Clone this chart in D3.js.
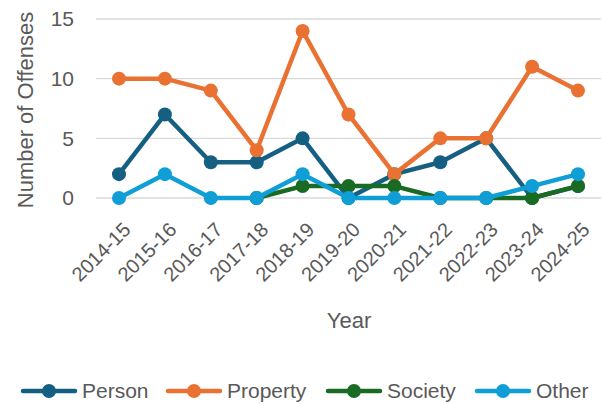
<!DOCTYPE html>
<html>
<head>
<meta charset="utf-8">
<script src="https://cdn.jsdelivr.net/npm/d3@7"></script>
<style>
  body { margin: 0; background: #fff; }
  text { font-family: "Liberation Sans", Arial, sans-serif; fill: #595959; }
</style>
</head>
<body>
<div id="chart"></div>
<script>
const years = ["2014-15", "2015-16", "2016-17", "2017-18", "2018-19", "2019-20",
  "2020-21", "2021-22", "2022-23", "2023-24", "2024-25"];
const person = [2, 7, 3, 3, 5, 0, 2, 3, 5, 0, 1];
const property = [10, 10, 9, 4, 14, 7, 2, 5, 5, 11, 9];
// no Society entries for the first three years
const society = [null, null, null, 0, 1, 1, 1, 0, 0, 0, 1];
const other = [0, 2, 0, 0, 2, 0, 0, 0, 0, 1, 2];
const yTicks = [0, 5, 10, 15];

const series = [
  { name: "Person", values: person, color: "#156082" },
  { name: "Property", values: property, color: "#E97132" },
  { name: "Society", values: society, color: "#196B24" },
  { name: "Other", values: other, color: "#0F9ED5" }
];

var width = 603, height = 404;

var svg = d3.select("#chart").append("svg")
  .attr("width", width)
  .attr("height", height);

var x = d3.scalePoint().domain(years).range([119, 578]);
var y = d3.scaleLinear().domain([0, 15]).range([198, 19]);

// gridlines
svg.append("g")
  .selectAll("line")
  .data(yTicks)
  .enter()
  .append("line")
  .attr("x1", 96)
  .attr("x2", 601)
  .attr("y1", d => y(d))
  .attr("y2", d => y(d))
  .attr("stroke", "#d9d9d9")
  .attr("stroke-width", 1.3);

// y axis labels
var yAxis = svg.append("g")
  .attr("transform", "translate(74,0)")
  .call(d3.axisLeft(y).tickValues(yTicks).tickSize(0).tickPadding(0));
yAxis.select(".domain").remove();
yAxis.selectAll("text")
  .attr("font-size", 21)
  .attr("fill", "#595959")
  .style("font-family", "Liberation Sans, Arial, sans-serif");

// x axis labels, rotated
svg.append("g")
  .selectAll("text")
  .data(years)
  .enter()
  .append("text")
  .attr("transform", d => "translate(" + (x(d) + 8) + ",226) rotate(-45)")
  .attr("text-anchor", "end")
  .attr("dy", "0.35em")
  .attr("font-size", 20)
  .text(d => d);

// axis titles
svg.append("text")
  .attr("transform", "translate(33,110) rotate(-90)")
  .attr("text-anchor", "middle")
  .attr("font-size", 22)
  .text("Number of Offenses");

svg.append("text")
  .attr("x", 349)
  .attr("y", 328)
  .attr("text-anchor", "middle")
  .attr("font-size", 22)
  .text("Year");

var line = d3.line()
  .defined(d => d !== null)
  .x((d, i) => x(years[i]))
  .y(d => y(d));

series.forEach(function(s) {
  var g = svg.append("g").attr("id", s.name + "Series");
  g.append("path")
    .datum(s.values)
    .attr("d", line)
    .attr("fill", "none")
    .attr("stroke", s.color)
    .attr("stroke-width", 4.5)
    .attr("stroke-linejoin", "round");
  g.selectAll("circle")
    .data(s.values.map((v, i) => ({ year: years[i], value: v })).filter(d => d.value !== null))
    .enter()
    .append("circle")
    .attr("cx", d => x(d.year))
    .attr("cy", d => y(d.value))
    .attr("r", 7)
    .attr("fill", s.color);
});

// legend
var legendX = [21, 166, 326, 475];
var legend = svg.append("g").attr("transform", "translate(0,391)");
series.forEach(function(s, i) {
  var lg = legend.append("g").attr("transform", "translate(" + legendX[i] + ",0)");
  lg.append("line")
    .attr("x1", 2).attr("x2", 54)
    .attr("y1", 0).attr("y2", 0)
    .attr("stroke", s.color)
    .attr("stroke-width", 4.5)
    .attr("stroke-linecap", "round");
  lg.append("circle")
    .attr("cx", 28).attr("cy", 0).attr("r", 7)
    .attr("fill", s.color);
  lg.append("text")
    .attr("x", 61)
    .attr("y", 0)
    .attr("dy", "0.35em")
    .attr("font-size", 21)
    .text(s.name);
});
</script>
</body>
</html>
